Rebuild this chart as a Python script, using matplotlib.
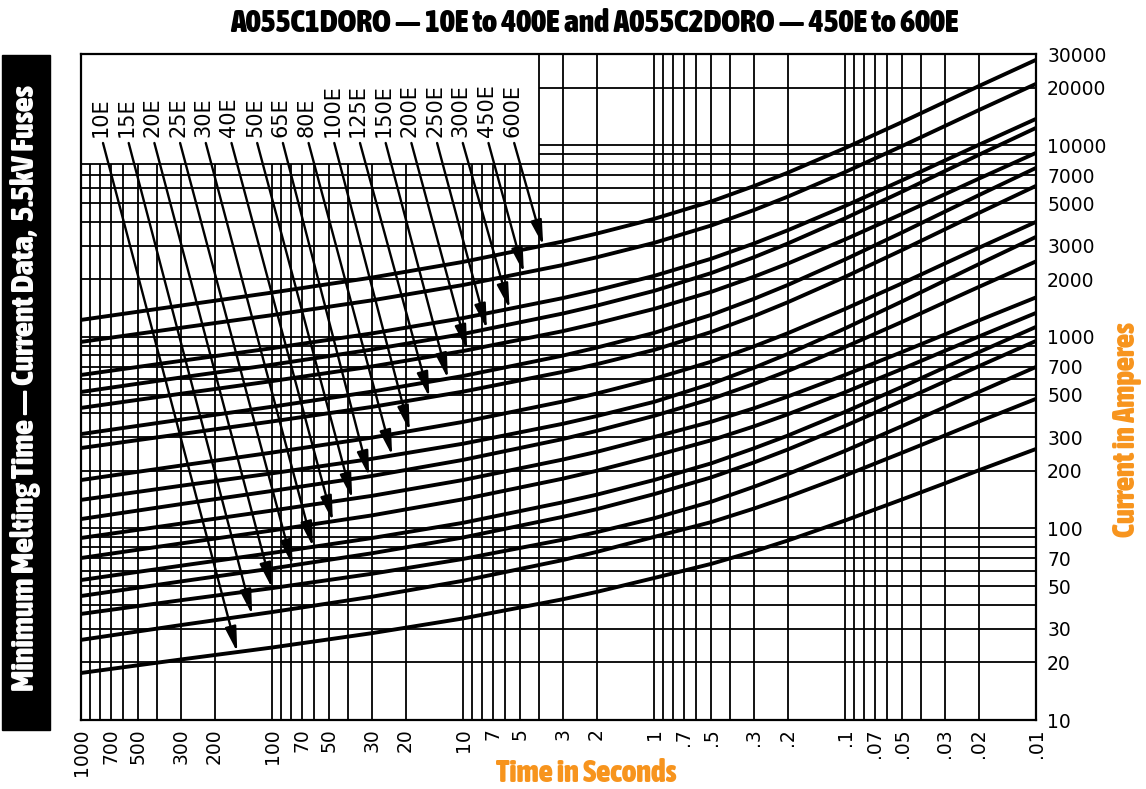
import numpy as np
import matplotlib
matplotlib.use("Agg")
import matplotlib.pyplot as plt
from matplotlib import font_manager
from matplotlib.font_manager import FontProperties
from matplotlib.patches import Rectangle
from matplotlib.ticker import NullLocator

# time readings (seconds) shared by all curves
times = [1000, 300, 100, 30, 10, 3, 2, 1, 0.5, 0.3, 0.2, 0.1, 0.05, 0.03, 0.02, 0.01]

fuses = ["10E", "15E", "20E", "25E", "30E", "40E", "50E", "65E", "80E",
         "100E", "125E", "150E", "200E", "250E", "300E", "450E", "600E"]

# minimum melting current (A) at each time above
amps_10e = [17.6, 20.7, 23.9, 28.4, 33.9, 42.7, 46.6, 55.1, 65.4, 75.9, 86.4, 110, 142, 172, 201, 260]
amps_15e = [26.2, 31.3, 36.6, 44.0, 53.3, 68.4, 75.4, 90.3, 108, 127, 146, 189, 249, 306, 361, 475]
amps_20e = [35.8, 42.2, 48.8, 58.0, 69.3, 87.4, 95.6, 113, 138, 165, 192, 254, 343, 430, 515, 697]
amps_25e = [44.4, 52.9, 61.8, 74.2, 89.7, 115, 126, 151, 185, 221, 258, 343, 465, 585, 702, 953]
amps_30e = [53.8, 63.9, 74.5, 89.1, 107, 137, 150, 179, 219, 262, 305, 406, 550, 693, 831, 1128]
amps_40e = [70.1, 83.5, 97.6, 117, 142, 182, 200, 239, 289, 341, 394, 514, 682, 846, 1003, 1334]
amps_50e = [89.2, 106, 124, 148, 179, 229, 251, 300, 361, 424, 488, 633, 836, 1030, 1217, 1608]
amps_65e = [112, 134, 157, 188, 228, 293, 323, 387, 475, 568, 663, 885, 1201, 1516, 1821, 2479]
amps_80e = [141, 167, 194, 231, 277, 352, 386, 458, 570, 690, 814, 1107, 1536, 1968, 2394, 3328]
amps_100e = [179, 213, 249, 298, 360, 460, 506, 604, 743, 892, 1044, 1399, 1909, 2418, 2914, 3986]
amps_125e = [263, 311, 362, 431, 518, 657, 720, 855, 1062, 1284, 1515, 2057, 2848, 3644, 4430, 6145]
amps_150e = [311, 370, 432, 518, 625, 799, 879, 1049, 1305, 1580, 1865, 2537, 3519, 4509, 5486, 7628]
amps_200e = [426, 505, 588, 701, 844, 1072, 1177, 1400, 1721, 2061, 2412, 3226, 4397, 5557, 6693, 9137]
amps_250e = [516, 614, 716, 859, 1036, 1325, 1456, 1739, 2157, 2605, 3070, 4160, 5746, 7341, 8913, 12340]
amps_300e = [633, 750, 873, 1043, 1254, 1595, 1750, 2082, 2563, 3073, 3600, 4823, 6586, 8338, 10050, 13750]
amps_450e = [942, 1116, 1299, 1552, 1866, 2373, 2603, 3097, 3822, 4595, 5392, 7251, 9942, 12620, 15260, 20950]
amps_600e = [1227, 1458, 1704, 2041, 2464, 3149, 3461, 4132, 5101, 6131, 7193, 9678, 13260, 16850, 20360, 27960]

curves = [amps_10e, amps_15e, amps_20e, amps_25e, amps_30e, amps_40e,
          amps_50e, amps_65e, amps_80e, amps_100e, amps_125e, amps_150e,
          amps_200e, amps_250e, amps_300e, amps_450e, amps_600e]

# time where each label's arrow meets its curve
arrow_times = [152, 127, 100, 78, 61, 48, 38, 31, 23.5, 19, 15, 12, 9.5,
               7.5, 5.7, 4.8, 3.8]

x_ticks = [1000, 700, 500, 300, 200, 100, 70, 50, 30, 20, 10, 7, 5, 3, 2, 1,
           0.7, 0.5, 0.3, 0.2, 0.1, 0.07, 0.05, 0.03, 0.02, 0.01]
x_tick_labels = ["1000", "700", "500", "300", "200", "100", "70", "50", "30",
                 "20", "10", "7", "5", "3", "2", "1", ".7", ".5", ".3", ".2",
                 ".1", ".07", ".05", ".03", ".02", ".01"]
y_ticks = [10, 20, 30, 50, 70, 100, 200, 300, 500, 700, 1000, 2000, 3000,
           5000, 7000, 10000, 20000, 30000]
y_tick_labels = [str(v) for v in y_ticks]

ORANGE = "#F7941D"
W, H = 1146, 789


def condensed_font():
    best, best_w = None, -1
    for f in font_manager.fontManager.ttflist:
        name = f.name
        if "Mono" in name or f.style != "normal":
            continue
        cond = ("condensed" in str(f.stretch).lower() or "Condensed" in name
                or "Narrow" in name)
        if not cond:
            continue
        w = f.weight
        if not isinstance(w, (int, float)):
            w = font_manager.weight_dict.get(str(w), 400)
        if w > best_w:
            best, best_w = f, w
    if best is not None and best_w >= 600:
        return FontProperties(fname=best.fname)
    return FontProperties(family="DejaVu Sans", weight="bold")


cond = condensed_font()

fig = plt.figure(figsize=(W / 100, H / 100), dpi=100)
ax = fig.add_axes([81 / W, 1 - 720 / H, 955 / W, 666 / H])
ax.set_xscale("log")
ax.set_yscale("log")
ax.set_xlim(1000, 0.01)
ax.set_ylim(10, 30000)

# grid: the label box (1000..4 s, above 8000 A) stays blank
box_t, box_a = 4, 8000
vlines = sorted({round(m * 10.0 ** e, 6) for e in range(-2, 3) for m in range(1, 10)} | {1000})
for v in vlines:
    top = 30000 if v <= box_t else box_a
    ax.vlines(v, 10, top, color="black", lw=1.3, zorder=1)
hlines = sorted({m * 10 ** e for e in range(1, 4) for m in range(1, 10)} | {10000, 20000})
for h in hlines:
    left = 1000 if h <= box_a else box_t
    ax.hlines(h, left, 0.01, color="black", lw=1.3, zorder=1)

for amps in curves:
    ax.plot(times, amps, color="black", lw=2.8, solid_capstyle="round",
            solid_joinstyle="round", zorder=3)

# fuse labels with arrows
lt = np.log10(times)[::-1]
for i, (lab, amps, ta) in enumerate(zip(fuses, curves, arrow_times)):
    px = 101 + 25.7 * i
    xf = (px - 81) / 955
    ax.text(xf, (720 - 137) / 666, lab, rotation=90, ha="center", va="bottom",
            fontsize=15, transform=ax.transAxes, zorder=5)
    tip_a = 10 ** np.interp(np.log10(ta), lt, np.log10(amps)[::-1])
    ax.annotate("", xy=(ta, tip_a), xytext=((px + 2 - 81) / 955, (720 - 143) / 666),
                textcoords="axes fraction",
                arrowprops=dict(arrowstyle="-|>,head_length=0.75,head_width=0.17",
                                mutation_scale=20, lw=1.7, color="black",
                                shrinkA=0, shrinkB=0),
                zorder=4)

ax.set_xticks(x_ticks)
ax.set_xticklabels(x_tick_labels, rotation=90, fontsize=13.5)
ax.yaxis.tick_right()
ax.set_yticks(y_ticks)
ax.set_yticklabels(y_tick_labels, fontsize=13.5)
ax.xaxis.set_minor_locator(NullLocator())
ax.yaxis.set_minor_locator(NullLocator())
ax.tick_params(axis="x", length=0, pad=6)
ax.tick_params(axis="y", length=0, pad=8)
for s in ax.spines.values():
    s.set_linewidth(1.6)

# left black band
fig.add_artist(Rectangle((2 / W, 1 - 730 / H), 48 / W, 675 / H,
                         transform=fig.transFigure, color="black"))
side = fig.text(26 / W, 1 - 388 / H, "Minimum Melting Time \u2014 Current Data,  5.5kV Fuses",
                rotation=90, color="white", ha="center", va="center", fontproperties=cond)
title = fig.text(594 / W, 1 - 24 / H,
                 "A055C1DORO \u2014 10E to 400E and A055C2DORO \u2014 450E to 600E",
                 ha="center", va="center", color="black", fontproperties=cond)
ylab = fig.text(1126 / W, 1 - 430 / H, "Current in Amperes", rotation=90,
                color=ORANGE, ha="center", va="center", fontproperties=cond)
xlab = fig.text(586 / W, 1 - 774 / H, "Time in Seconds", color=ORANGE,
                ha="center", va="center", fontproperties=cond)

renderer = fig.canvas.get_renderer()


def fit(t, length_px, rotated=False):
    t.set_fontsize(20)
    bb = t.get_window_extent(renderer)
    cur = bb.height if rotated else bb.width
    t.set_fontsize(20 * length_px / cur)


fit(title, 725)
fit(side, 605, rotated=True)
fit(ylab, 215, rotated=True)
fit(xlab, 181)

fig.savefig("out.png", dpi=100)
